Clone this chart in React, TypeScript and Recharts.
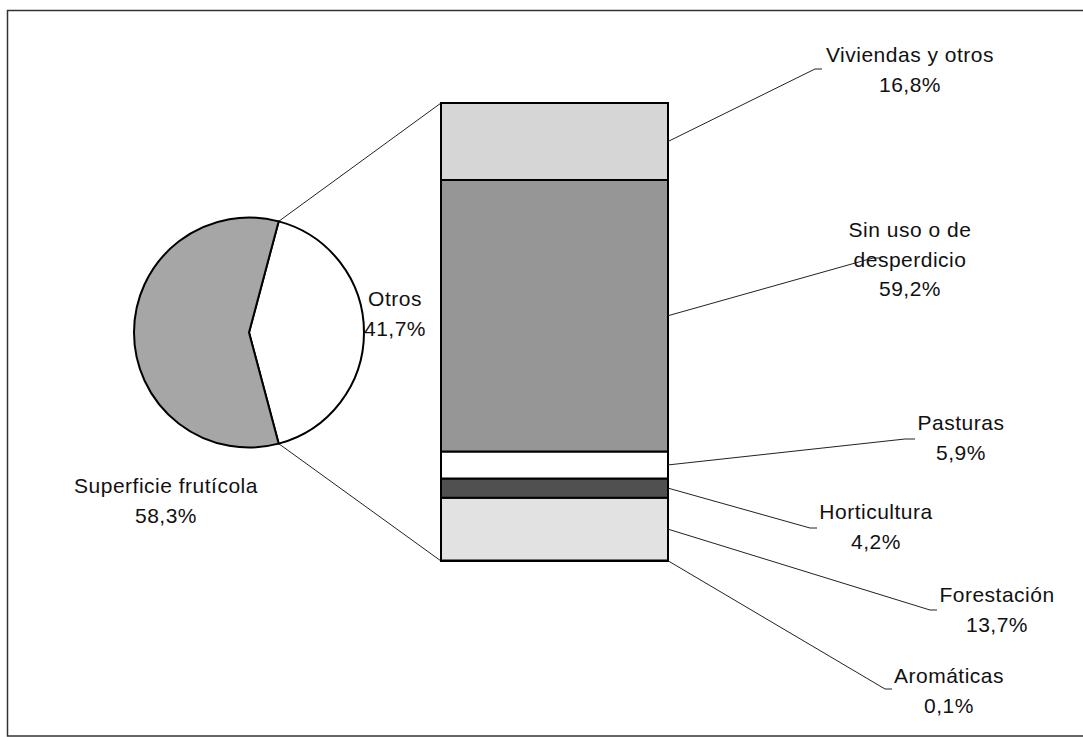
import React from 'react';
import { PieChart, Pie, Cell, BarChart, Bar, XAxis, YAxis, LabelList } from 'recharts';

// pie: share of the whole area
const pieNames = ['Otros', 'Superficie frutícola'];
const pieValues = [41.7, 58.3];
const pieColors = ['#ffffff', '#a6a6a6'];

// bar: breakdown of "Otros", bottom to top
const segKeys = ['aro', 'fore', 'hort', 'past', 'sinuso', 'viv'];
const segNames = ['Aromáticas', 'Forestación', 'Horticultura', 'Pasturas', 'Sin uso o de\ndesperdicio', 'Viviendas y otros'];
const segValues = [0.1, 13.7, 4.2, 5.9, 59.2, 16.8];
const segColors = ['#555555', '#e2e2e2', '#505050', '#ffffff', '#969696', '#d6d6d6'];

const fmt = (v: number) => v.toFixed(1).replace('.', ',') + '%';

const W = 1083;
const H = 737;
const FONT = '"Liberation Sans", Arial, sans-serif';
const FS = 21;
const LH = 29.5;

const PIE = { cx: 249, cy: 332.5, r: 115 };
const BAR = { left: 441, right: 668, top: 103, bottom: 561 };

// where each label sits (Excel placed them by hand)
const pieLabelPos = [
  { x: 395, y: 306 },
  { x: 166, y: 493 },
];
const segLabelPos = [
  { ex: 885, ey: 689, hx: 892, tx: 949, ty: 683 },
  { ex: 930, ey: 610, hx: 937, tx: 997, ty: 602 },
  { ex: 810, ey: 528, hx: 817, tx: 876, ty: 519 },
  { ex: 905, ey: 439, hx: 915, tx: 961, ty: 430 },
  { ex: 873, ey: 258, hx: 880, tx: 910, ty: 237 },
  { ex: 815, ey: 69, hx: 822, tx: 910, ty: 62 },
];

const barRow: Record<string, any> = { name: 'Otros' };
segKeys.forEach((k, i) => { barRow[k] = segValues[i]; });
const barTotal = segValues.reduce((a, b) => a + b, 0);

function Lines({ x, y, lines }: { x: number; y: number; lines: string[] }) {
  return (
    <text x={x} y={y} textAnchor="middle" fontFamily={FONT} fontSize={FS} letterSpacing={0.5} fill="#111">
      {lines.map((l, i) => (
        <tspan key={i} x={x} dy={i === 0 ? 0 : LH}>{l}</tspan>
      ))}
    </text>
  );
}

const segLabel = (i: number) => (p: any) => {
  const vb = p.viewBox ?? p;
  const x0 = vb.x + vb.width;
  const y0 = vb.y + vb.height / 2;
  const L = segLabelPos[i];
  return (
    <g>
      <polyline points={`${x0},${y0} ${L.ex},${L.ey} ${L.hx},${L.ey}`} fill="none" stroke="#222" strokeWidth={1} />
      <Lines x={L.tx} y={L.ty} lines={[...segNames[i].split('\n'), fmt(segValues[i])]} />
    </g>
  );
};

const pieLabel = (p: any) => {
  const i = p.index;
  const pos = pieLabelPos[i];
  return <Lines key={i} x={pos.x} y={pos.y} lines={[pieNames[i], fmt(pieValues[i])]} />;
};

export default function App() {
  const pieTotal = pieValues[0] + pieValues[1];
  const half = (pieValues[0] / pieTotal) * 180;
  const rad = (half * Math.PI) / 180;
  const topPt = { x: PIE.cx + PIE.r * Math.cos(rad), y: PIE.cy - PIE.r * Math.sin(rad) };
  const botPt = { x: PIE.cx + PIE.r * Math.cos(rad), y: PIE.cy + PIE.r * Math.sin(rad) };
  const pieData = pieNames.map((n, i) => ({ name: n, value: pieValues[i] }));
  const abs: React.CSSProperties = { position: 'absolute', left: 0, top: 0 };

  return (
    <div style={{ position: 'absolute', left: 0, top: 0, width: W, height: H, background: '#fff', overflow: 'hidden' }}>
      <svg width={W} height={H} style={{ ...abs }}>
        <rect x={7.5} y={10.5} width={W + 10} height={725.5} fill="none" stroke="#333" strokeWidth={1.5} />
        <line x1={topPt.x} y1={topPt.y} x2={BAR.left} y2={BAR.top} stroke="#222" strokeWidth={1} />
        <line x1={botPt.x} y1={botPt.y} x2={BAR.left} y2={BAR.bottom} stroke="#222" strokeWidth={1} />
      </svg>

      <div style={abs}>
        <PieChart width={W} height={H} margin={{ top: 0, right: 0, bottom: 0, left: 0 }}>
          <Pie
            data={pieData}
            dataKey="value"
            cx={PIE.cx}
            cy={PIE.cy}
            outerRadius={PIE.r}
            startAngle={-half}
            endAngle={360 - half}
            stroke="#000"
            strokeWidth={2}
            label={pieLabel}
            labelLine={false}
            isAnimationActive={false}
          >
            {pieData.map((d, i) => <Cell key={d.name} fill={pieColors[i]} />)}
          </Pie>
        </PieChart>
      </div>

      <div style={abs}>
        <BarChart
          width={W}
          height={H}
          data={[barRow]}
          barCategoryGap={0}
          margin={{ left: BAR.left, right: W - BAR.right, top: BAR.top, bottom: H - BAR.bottom }}
        >
          <XAxis dataKey="name" hide />
          <YAxis hide domain={[0, barTotal]} />
          {segKeys.map((k, i) => (
            <Bar key={k} dataKey={k} stackId="a" fill={segColors[i]} stroke="#000" strokeWidth={2} isAnimationActive={false}>
              <LabelList dataKey={k} content={segLabel(i)} />
            </Bar>
          ))}
        </BarChart>
      </div>
    </div>
  );
}
